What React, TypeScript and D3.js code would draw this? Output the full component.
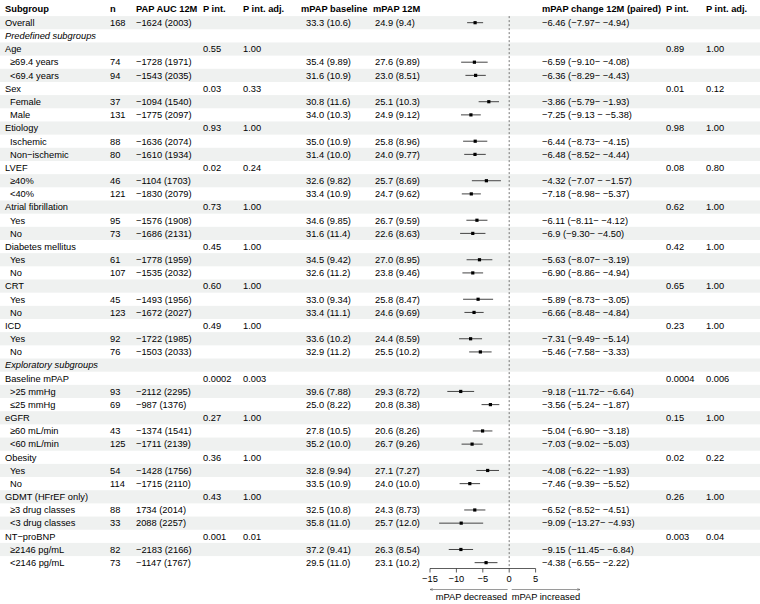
import React from "react";
import * as d3 from "d3";

const M = "\u2212";

const subgroups = [
  "Overall", "Predefined subgroups", "Age", "≥69.4 years", "<69.4 years", "Sex", "Female", "Male",
  "Etiology", "Ischemic", "Non−ischemic", "LVEF", "≥40%", "<40%", "Atrial fibrillation", "Yes", "No",
  "Diabetes mellitus", "Yes", "No", "CRT", "Yes", "No", "ICD", "Yes", "No", "Exploratory subgroups",
  "Baseline mPAP", ">25 mmHg", "≤25 mmHg", "eGFR", "≥60 mL/min", "<60 mL/min", "Obesity", "Yes", "No",
  "GDMT (HFrEF only)", "≥3 drug classes", "<3 drug classes", "NT−proBNP", "≥2146 pg/mL", "<2146 pg/mL",
];
// 0 = top level, 1 = indented, 2 = italic section header
const rowKind = [
  0, 2, 0, 1, 1, 0, 1, 1, 0, 1, 1, 0, 1, 1, 0, 1, 1, 0, 1, 1, 0, 1, 1, 0, 1, 1, 2,
  0, 1, 1, 0, 1, 1, 0, 1, 1, 0, 1, 1, 0, 1, 1,
];
const nVals = [
  "168", "", "", "74", "94", "", "37", "131", "", "88", "80", "", "46", "121", "", "95", "73",
  "", "61", "107", "", "45", "123", "", "92", "76", "", "", "93", "69", "", "43", "125", "", "54", "114",
  "", "88", "33", "", "82", "73",
];
const aucVals = [
  "−1624 (2003)", "", "", "−1728 (1971)", "−1543 (2035)", "", "−1094 (1540)", "−1775 (2097)", "",
  "−1636 (2074)", "−1610 (1934)", "", "−1104 (1703)", "−1830 (2079)", "", "−1576 (1908)", "−1686 (2131)",
  "", "−1778 (1959)", "−1535 (2032)", "", "−1493 (1956)", "−1672 (2027)", "", "−1722 (1985)", "−1503 (2033)",
  "", "", "−2112 (2295)", "−987 (1376)", "", "−1374 (1541)", "−1711 (2139)", "", "−1428 (1756)",
  "−1715 (2110)", "", "1734 (2014)", "2088 (2257)", "", "−2183 (2166)", "−1147 (1767)",
];
const pInt1 = [
  "", "", "0.55", "", "", "0.03", "", "", "0.93", "", "", "0.02", "", "", "0.73", "", "", "0.45", "", "",
  "0.60", "", "", "0.49", "", "", "", "0.0002", "", "", "0.27", "", "", "0.36", "", "", "0.43", "", "",
  "0.001", "", "",
];
const pAdj1 = [
  "", "", "1.00", "", "", "0.33", "", "", "1.00", "", "", "0.24", "", "", "1.00", "", "", "1.00", "", "",
  "1.00", "", "", "1.00", "", "", "", "0.003", "", "", "1.00", "", "", "1.00", "", "", "1.00", "", "",
  "0.01", "", "",
];
const baselineVals = [
  "33.3 (10.6)", "", "", "35.4 (9.89)", "31.6 (10.9)", "", "30.8 (11.6)", "34.0 (10.3)", "", "35.0 (10.9)",
  "31.4 (10.0)", "", "32.6 (9.82)", "33.4 (10.9)", "", "34.6 (9.85)", "31.6 (11.4)", "", "34.5 (9.42)",
  "32.6 (11.2)", "", "33.0 (9.34)", "33.4 (11.1)", "", "33.6 (10.2)", "32.9 (11.2)", "", "", "39.6 (7.88)",
  "25.0 (8.22)", "", "27.8 (10.5)", "35.2 (10.0)", "", "32.8 (9.94)", "33.5 (10.9)", "", "32.5 (10.8)",
  "35.8 (11.0)", "", "37.2 (9.41)", "29.5 (11.0)",
];
const m12Vals = [
  "24.9 (9.4)", "", "", "27.6 (9.89)", "23.0 (8.51)", "", "25.1 (10.3)", "24.9 (9.12)", "", "25.8 (8.96)",
  "24.0 (9.77)", "", "25.7 (8.69)", "24.7 (9.62)", "", "26.7 (9.59)", "22.6 (8.63)", "", "27.0 (8.95)",
  "23.8 (9.46)", "", "25.8 (8.47)", "24.6 (9.69)", "", "24.4 (8.59)", "25.5 (10.2)", "", "", "29.3 (8.72)",
  "20.8 (8.38)", "", "20.6 (8.26)", "26.7 (9.26)", "", "27.1 (7.27)", "24.0 (10.0)", "", "24.3 (8.73)",
  "25.7 (12.0)", "", "26.3 (8.54)", "23.1 (10.2)",
];
const est = [
  -6.46, NaN, NaN, -6.59, -6.36, NaN, -3.86, -7.25, NaN, -6.44, -6.48, NaN, -4.32, -7.18, NaN, -6.11, -6.9,
  NaN, -5.63, -6.9, NaN, -5.89, -6.66, NaN, -7.31, -5.46, NaN, NaN, -9.18, -3.56, NaN, -5.04, -7.03, NaN,
  -4.08, -7.46, NaN, -6.52, -9.09, NaN, -9.15, -4.38,
];
const lower = [
  -7.97, NaN, NaN, -9.1, -8.29, NaN, -5.79, -9.13, NaN, -8.73, -8.52, NaN, -7.07, -8.98, NaN, -8.11, -9.3,
  NaN, -8.07, -8.86, NaN, -8.73, -8.48, NaN, -9.49, -7.58, NaN, NaN, -11.72, -5.24, NaN, -6.9, -9.02, NaN,
  -6.22, -9.39, NaN, -8.52, -13.27, NaN, -11.45, -6.55,
];
const upper = [
  -4.94, NaN, NaN, -4.08, -4.43, NaN, -1.93, -5.38, NaN, -4.15, -4.44, NaN, -1.57, -5.37, NaN, -4.12, -4.5,
  NaN, -3.19, -4.94, NaN, -3.05, -4.84, NaN, -5.14, -3.33, NaN, NaN, -6.64, -1.87, NaN, -3.18, -5.03, NaN,
  -1.93, -5.52, NaN, -4.51, -4.93, NaN, -6.84, -2.22,
];
const ciText = [
  "−6.46 (−7.97− −4.94)", "", "", "−6.59 (−9.10− −4.08)", "−6.36 (−8.29− −4.43)", "",
  "−3.86 (−5.79− −1.93)", "−7.25 (−9.13 − −5.38)", "", "−6.44 (−8.73− −4.15)", "−6.48 (−8.52− −4.44)", "",
  "−4.32 (−7.07 − −1.57)", "−7.18 (−8.98− −5.37)", "", "−6.11 (−8.11− −4.12)", "−6.9 (−9.30− −4.50)", "",
  "−5.63 (−8.07− −3.19)", "−6.90 (−8.86− −4.94)", "", "−5.89 (−8.73− −3.05)", "−6.66 (−8.48− −4.84)", "",
  "−7.31 (−9.49− −5.14)", "−5.46 (−7.58− −3.33)", "", "", "−9.18 (−11.72− −6.64)", "−3.56 (−5.24− −1.87)",
  "", "−5.04 (−6.90− −3.18)", "−7.03 (−9.02− −5.03)", "", "−4.08 (−6.22− −1.93)", "−7.46 (−9.39− −5.52)",
  "", "−6.52 (−8.52− −4.51)", "−9.09 (−13.27− −4.93)", "", "−9.15 (−11.45− −6.84)", "−4.38 (−6.55− −2.22)",
];
const pInt2 = [
  "", "", "0.89", "", "", "0.01", "", "", "0.98", "", "", "0.08", "", "", "0.62", "", "", "0.42", "", "",
  "0.65", "", "", "0.23", "", "", "", "0.0004", "", "", "0.15", "", "", "0.02", "", "", "0.26", "", "",
  "0.003", "", "",
];
const pAdj2 = [
  "", "", "1.00", "", "", "0.12", "", "", "1.00", "", "", "0.80", "", "", "1.00", "", "", "1.00", "", "",
  "1.00", "", "", "1.00", "", "", "", "0.006", "", "", "1.00", "", "", "0.22", "", "", "1.00", "", "",
  "0.04", "", "",
];
const headers = ["Subgroup", "n", "PAP AUC 12M", "P int.", "P int. adj.", "mPAP baseline", "mPAP 12M", "", "mPAP change 12M (paired)", "P int.", "P int. adj."];
const xTicks = [-15, -10, -5, 0, 5];
const arrowLabels = ["mPAP decreased", "mPAP increased"];

const W = 760;
const H = 604;
const FONT = "'Liberation Sans', Arial, Helvetica, sans-serif";
const FS = 9.3;

export default function App() {
  const nRows = subgroups.length;
  const rowH = 13.17;
  const top0 = 16.1;
  const y = d3.scaleLinear().domain([0, nRows]).range([top0, top0 + nRows * rowH]);
  const x = d3.scaleLinear().domain([-15, 5]).range([430, 535.6]);
  const axisY = 568.5;

  const headerX = [5, 110, 136, 203, 243, 301, 373, 0, 542, 666, 706];
  const cols: { vals: string[]; x: number }[] = [
    { vals: nVals, x: 110 },
    { vals: aucVals, x: 136 },
    { vals: pInt1, x: 203 },
    { vals: pAdj1, x: 243 },
    { vals: baselineVals, x: 306 },
    { vals: m12Vals, x: 375 },
    { vals: ciText, x: 542 },
    { vals: pInt2, x: 666 },
    { vals: pAdj2, x: 706 },
  ];

  return (
    <svg
      width={W}
      height={H}
      style={{ position: "absolute", left: 0, top: 0, background: "white" }}
      fontFamily={FONT}
      fontSize={FS}
    >
      <defs>
        <marker id="arr" viewBox="0 0 10 10" refX="9" refY="5" markerWidth="6" markerHeight="6" orient="auto-start-reverse">
          <path d="M1,1.5 L9,5 L1,8.5" fill="none" stroke="#555" strokeWidth="1.2" />
        </marker>
      </defs>
      {subgroups.map((_, i) =>
        i % 2 === 0 ? (
          <rect key={"bg" + i} x={0} y={y(i)} width={W} height={rowH} fill="#eff1f0" />
        ) : null
      )}
      {headers.map((h, j) =>
        h ? (
          <text key={"h" + j} x={headerX[j]} y={12.3} fontWeight="bold" fill="#000">
            {h}
          </text>
        ) : null
      )}
      {subgroups.map((s, i) => (
        <text
          key={"s" + i}
          x={rowKind[i] === 1 ? 10 : 5}
          y={y(i) + rowH / 2 + 3.3}
          fontStyle={rowKind[i] === 2 ? "italic" : "normal"}
          fill="#000"
        >
          {s}
        </text>
      ))}
      {cols.map((c, j) =>
        c.vals.map((v, i) =>
          v ? (
            <text key={"c" + j + "_" + i} x={c.x} y={y(i) + rowH / 2 + 3.3} fill="#000">
              {v}
            </text>
          ) : null
        )
      )}
      <line x1={x(0)} x2={x(0)} y1={top0} y2={axisY} stroke="#555" strokeWidth={0.8} strokeDasharray="2,2" />
      {est.map((e, i) =>
        isNaN(e) ? null : (
          <g key={"ci" + i}>
            <line x1={x(lower[i])} x2={x(upper[i])} y1={y(i) + rowH / 2} y2={y(i) + rowH / 2} stroke="#444" strokeWidth={1} />
            <rect x={x(e) - 1.6} y={y(i) + rowH / 2 - 1.6} width={3.2} height={3.2} fill="#000" />
          </g>
        )
      )}
      <line x1={x(-15)} x2={x(5)} y1={axisY} y2={axisY} stroke="#333" strokeWidth={0.8} />
      {xTicks.map((t) => (
        <g key={"t" + t}>
          <line x1={x(t)} x2={x(t)} y1={axisY} y2={axisY + 4} stroke="#333" strokeWidth={0.8} />
          <text x={x(t)} y={axisY + 13} textAnchor="middle" fill="#000">
            {t < 0 ? M + Math.abs(t) : String(t)}
          </text>
        </g>
      ))}
      <line x1={x(0) - 1.5} x2={x(-15)} y1={589.5} y2={589.5} stroke="#555" strokeWidth={0.6} markerEnd="url(#arr)" />
      <line x1={x(0) + 2.5} x2={580} y1={589.5} y2={589.5} stroke="#555" strokeWidth={0.6} markerEnd="url(#arr)" />
      <text x={x(0) - 2} y={600} textAnchor="end" fill="#000">
        {arrowLabels[0]}
      </text>
      <text x={x(0) + 2.5} y={600} textAnchor="start" fill="#000">
        {arrowLabels[1]}
      </text>
    </svg>
  );
}
